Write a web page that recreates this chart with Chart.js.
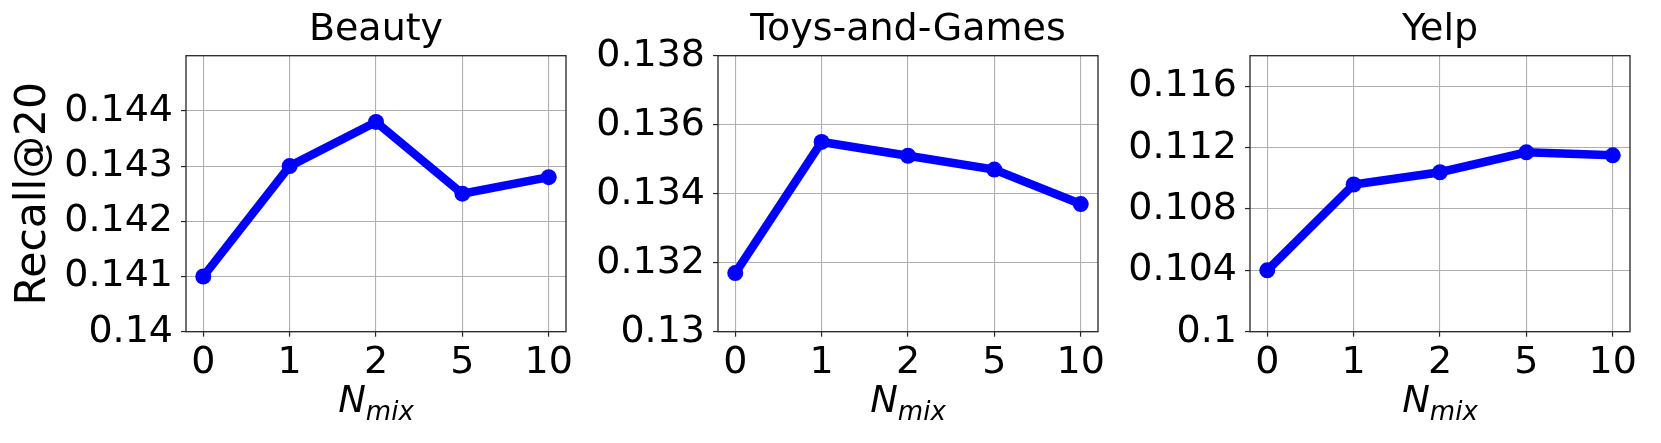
<!DOCTYPE html>
<html>
<head>
<meta charset="utf-8">
<script src="https://cdn.jsdelivr.net/npm/chart.js@4"></script>
<style>
  html, body { margin: 0; padding: 0; background: #fff; }
  #wrap { position: relative; width: 1661px; height: 443px; overflow: hidden; }
  canvas { position: absolute; top: 0; }
</style>
</head>
<body>
<div id="wrap">
  <canvas id="beauty" width="606" height="443" style="left:0px"></canvas>
  <canvas id="toys" width="578" height="443" style="left:560px"></canvas>
  <canvas id="yelp" width="561" height="443" style="left:1100px"></canvas>
</div>
<script>
// N_mix categories (shown as ticks at evenly spaced positions)
const nMix = ["0", "1", "2", "5", "10"]

// Recall@20 per dataset
const beautyValues = [0.141, 0.143, 0.1438, 0.1425, 0.1428]
const toysValues = [0.1317, 0.1355, 0.1351, 0.1347, 0.1337]
const yelpValues = [0.104, 0.1096, 0.1104, 0.1117, 0.1115]

// y tick labels and axis ranges
const beautyTicks = [0.14, 0.141, 0.142, 0.143, 0.144]
const toysTicks = [0.13, 0.132, 0.134, 0.136, 0.138]
const yelpTicks = [0.1, 0.104, 0.108, 0.112, 0.116]
const beautyRange = [0.14, 0.145]
const toysRange = [0.13, 0.138]
const yelpRange = [0.1, 0.118]

const FONT = "DejaVu Sans"
const BLUE = "#0000ff"

// frame around the plot + the N_mix label with subscript
const framePlugin = {
  id: "frame",
  afterDraw(chart) {
    const { ctx, chartArea } = chart
    ctx.save()
    ctx.strokeStyle = "#262626"
    ctx.lineWidth = 1.3
    ctx.strokeRect(chartArea.left, chartArea.top, chartArea.right - chartArea.left, chartArea.bottom - chartArea.top)

    const big = "italic 37px '" + FONT + "'"
    const small = "italic 26px '" + FONT + "'"
    ctx.font = big
    const wN = ctx.measureText("N").width
    ctx.font = small
    const wSub = ctx.measureText("mix").width
    const cx = (chartArea.left + chartArea.right) / 2
    const x0 = cx - (wN + wSub) / 2
    ctx.fillStyle = "#000"
    ctx.textBaseline = "alphabetic"
    ctx.textAlign = "left"
    ctx.font = big
    ctx.fillText("N", x0, 412)
    ctx.font = small
    ctx.fillText("mix", x0 + wN, 420)
    ctx.restore()
  },
}

function makeChart(id, values, ticks, range, yAxisWidth, padRight, showYTitle, title) {
  const points = values.map((v, i) => ({ x: i, y: v }))
  return new Chart(document.getElementById(id), {
    type: "line",
    data: {
      datasets: [
        {
          data: points,
          borderColor: BLUE,
          backgroundColor: BLUE,
          borderWidth: 8.5,
          pointRadius: 8,
          pointHoverRadius: 8,
          pointBorderWidth: 0,
          pointBackgroundColor: BLUE,
          tension: 0,
          clip: false,
        },
      ],
    },
    options: {
      responsive: false,
      animation: false,
      devicePixelRatio: 1,
      layout: { padding: { left: 0, right: padRight, top: 0, bottom: 0 } },
      plugins: {
        legend: { display: false },
        tooltip: { enabled: false },
        title: {
          display: true,
          text: title,
          fullSize: false,
          color: "#000",
          font: { family: FONT, size: 38, weight: "normal", lineHeight: 1.2 },
          padding: { top: 7.5, bottom: 2.6 },
        },
      },
      scales: {
        x: {
          type: "linear",
          min: -0.2,
          max: 4.2,
          afterBuildTicks: (scale) => {
            scale.ticks = nMix.map((_, i) => ({ value: i }))
          },
          afterFit: (scale) => {
            scale.height = 443 - 331.7
          },
          ticks: {
            color: "#000",
            font: { family: FONT, size: 38 },
            padding: 4,
            maxRotation: 0,
            callback: (v) => nMix[v],
          },
          grid: { color: "#b0b0b0", lineWidth: 1.1, tickLength: 5, tickColor: "#262626", tickWidth: 1.2 },
          border: { display: false },
        },
        y: {
          min: range[0],
          max: range[1],
          afterBuildTicks: (scale) => {
            scale.ticks = ticks.map((v) => ({ value: v }))
          },
          afterFit: (scale) => {
            scale.width = yAxisWidth
          },
          ticks: {
            color: "#000",
            font: { family: FONT, size: 38 },
            padding: 8,
            callback: (v) => String(parseFloat(v.toFixed(3))),
          },
          title: {
            display: showYTitle,
            text: "Recall@20",
            color: "#000",
            font: { family: FONT, size: 42.5 },
            padding: { top: 8.8, bottom: 0 },
          },
          grid: { color: "#b0b0b0", lineWidth: 1.1, tickLength: 5, tickColor: "#262626", tickWidth: 1.2 },
          border: { display: false },
        },
      },
    },
    plugins: [framePlugin],
  })
}

makeChart("beauty", beautyValues, beautyTicks, beautyRange, 186, 40, true, "Beauty")
makeChart("toys", toysValues, toysTicks, toysRange, 158, 40, false, "Toys-and-Games")
makeChart("yelp", yelpValues, yelpTicks, yelpRange, 150, 31, false, "Yelp")
</script>
</body>
</html>
